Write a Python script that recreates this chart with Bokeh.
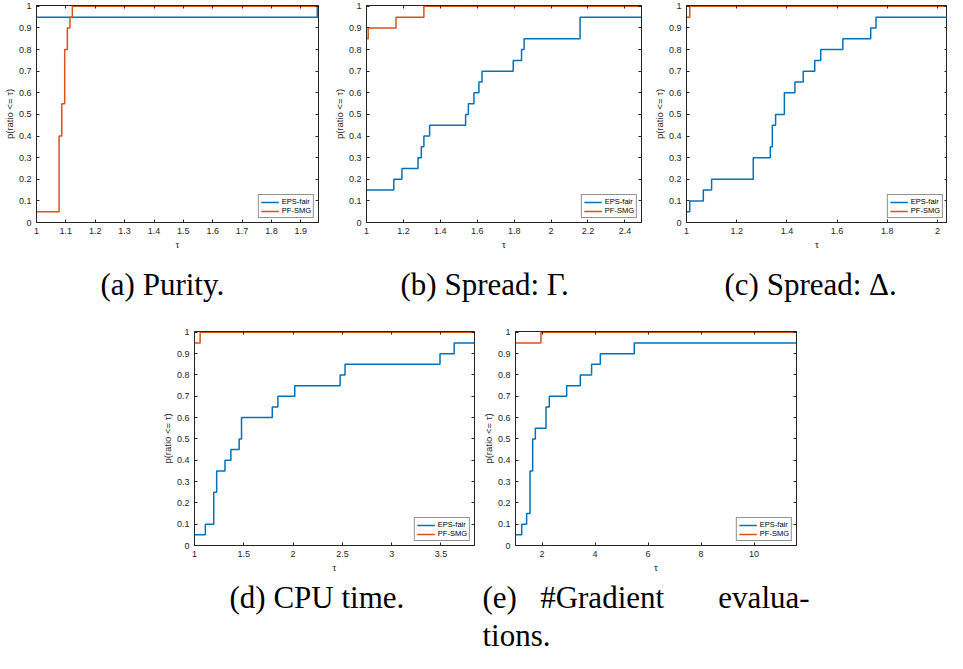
from bokeh.plotting import figure
from bokeh.layouts import column, row
from bokeh.models import Spacer, FixedTicker, LinearAxis, Title, Range1d
from bokeh.embed import file_html
from bokeh.resources import INLINE

# ---------------- data ----------------
series_names = ["EPS-fair", "PF-SMG"]
y_ticks = [0, 0.1, 0.2, 0.3, 0.4, 0.5, 0.6, 0.7, 0.8, 0.9, 1]
y_labels = ["0", "0.1", "0.2", "0.3", "0.4", "0.5", "0.6", "0.7", "0.8", "0.9", "1"]

NB = "\u00a0"
captions = ["(a) Purity.", "(b) Spread: \u0393.", "(c) Spread: \u0394.", "(d) CPU time.",
            "(e)" + NB * 3 + "#Gradient" + NB * 7 + "evalua-", "tions."]

# (a) Purity
purity_xlim = [1, 1.96]
purity_ticks = [1, 1.1, 1.2, 1.3, 1.4, 1.5, 1.6, 1.7, 1.8, 1.9]
purity_tick_labels = ["1", "1.1", "1.2", "1.3", "1.4", "1.5", "1.6", "1.7", "1.8", "1.9"]
purity_eps_tau = [1.0, 1.956]
purity_eps_p = [0.95, 1.00]
purity_pf_tau = [1.0, 1.077, 1.086, 1.096, 1.105, 1.114, 1.122]
purity_pf_p = [0.05, 0.40, 0.55, 0.80, 0.90, 0.95, 1.00]

# (b) Spread Gamma
gamma_xlim = [1, 2.49]
gamma_ticks = [1, 1.2, 1.4, 1.6, 1.8, 2, 2.2, 2.4]
gamma_tick_labels = ["1", "1.2", "1.4", "1.6", "1.8", "2", "2.2", "2.4"]
gamma_eps_tau = [1.0, 1.148, 1.192, 1.279, 1.297, 1.311, 1.342, 1.537, 1.552, 1.582, 1.609, 1.626, 1.795, 1.840, 1.854, 2.157]
gamma_eps_p = [0.15, 0.20, 0.25, 0.30, 0.35, 0.40, 0.45, 0.50, 0.55, 0.60, 0.65, 0.70, 0.75, 0.80, 0.85, 0.95]
gamma_pf_tau = [1.0, 1.009, 1.160, 1.311]
gamma_pf_p = [0.85, 0.90, 0.95, 1.00]

# (c) Spread Delta
delta_xlim = [1, 2.04]
delta_ticks = [1, 1.2, 1.4, 1.6, 1.8, 2]
delta_tick_labels = ["1", "1.2", "1.4", "1.6", "1.8", "2"]
delta_eps_tau = [1.0, 1.013, 1.067, 1.100, 1.266, 1.334, 1.342, 1.355, 1.390, 1.432, 1.465, 1.511, 1.535, 1.623, 1.734, 1.755]
delta_eps_p = [0.05, 0.10, 0.15, 0.20, 0.30, 0.35, 0.45, 0.50, 0.60, 0.65, 0.70, 0.75, 0.80, 0.85, 0.90, 0.95]
delta_pf_tau = [1.0, 1.013]
delta_pf_p = [0.95, 1.00]

# (d) CPU time
cpu_xlim = [1, 3.84]
cpu_ticks = [1, 1.5, 2, 2.5, 3, 3.5]
cpu_tick_labels = ["1", "1.5", "2", "2.5", "3", "3.5"]
cpu_eps_tau = [1.0, 1.110, 1.195, 1.225, 1.309, 1.369, 1.453, 1.477, 1.789, 1.846, 2.017, 2.477, 2.527, 3.490, 3.634]
cpu_eps_p = [0.05, 0.10, 0.25, 0.35, 0.40, 0.45, 0.50, 0.60, 0.65, 0.70, 0.75, 0.80, 0.85, 0.90, 0.95]
cpu_pf_tau = [1.0, 1.057]
cpu_pf_p = [0.95, 1.00]

# (e) #Gradient evaluations
grad_xlim = [1, 11.6]
grad_ticks = [2, 4, 6, 8, 10]
grad_tick_labels = ["2", "4", "6", "8", "10"]
grad_eps_tau = [1.0, 1.234, 1.420, 1.548, 1.648, 1.749, 2.150, 2.276, 2.930, 3.445, 3.870, 4.200, 5.480]
grad_eps_p = [0.05, 0.10, 0.15, 0.35, 0.50, 0.55, 0.65, 0.70, 0.75, 0.80, 0.85, 0.90, 0.95]
grad_pf_tau = [1.0, 1.960]
grad_pf_p = [0.95, 1.00]

# ---------------- styling ----------------
BLUE = "#0072BD"
ORANGE = "#D95319"
AXC = "#262626"
SANS = "Liberation Sans"
SERIF = "Liberation Serif"


def style_axis(ax, ticks, labels, show_labels=True, is_x=True):
    ax.ticker = FixedTicker(ticks=ticks)
    ax.major_tick_in = 3
    ax.major_tick_out = 0
    ax.minor_tick_line_color = None
    ax.axis_line_color = AXC
    ax.axis_line_width = 1
    ax.major_tick_line_color = AXC
    if show_labels:
        ax.major_label_overrides = {t: l for t, l in zip(ticks, labels)}
        ax.major_label_text_font = SANS
        ax.major_label_text_color = AXC
        ax.major_label_text_font_size = "9px"
        ax.major_label_standoff = 5
        ax.axis_label_text_font = SANS
        ax.axis_label_text_font_size = "9.5px"
        ax.axis_label_text_font_style = "normal"
        ax.axis_label_text_color = AXC
        ax.axis_label_standoff = 2 if is_x else 1
    else:
        ax.major_label_text_color = None
        ax.major_label_text_font_size = "0px"
        ax.major_label_standoff = 0


def panel(width, height, bl, br, bt, bb, xlim, xticks, xlabels,
          eps_tau, eps_p, pf_tau, pf_p, cap_lines, cap_offset, cap_standoff):
    p = figure(width=width, height=height,
               x_range=Range1d(xlim[0], xlim[1]), y_range=Range1d(0, 1.004),
               output_backend="svg", toolbar_location=None,
               min_border_left=bl, min_border_right=br,
               min_border_top=bt, min_border_bottom=bb,
               background_fill_color="white", border_fill_color="white")
    p.grid.visible = False
    p.outline_line_color = AXC
    p.outline_line_width = 1
    p.xaxis.axis_label = "\u03c4"
    p.yaxis.axis_label = "p(ratio <= \u03c4)"
    style_axis(p.xaxis[0], xticks, xlabels, True, True)
    style_axis(p.yaxis[0], y_ticks, y_labels, True, False)
    top = LinearAxis()
    style_axis(top, xticks, xlabels, False)
    p.add_layout(top, "above")
    right = LinearAxis()
    style_axis(right, y_ticks, y_labels, False)
    p.add_layout(right, "right")

    p.step(list(eps_tau) + [xlim[1]], list(eps_p) + [eps_p[-1]], mode="after",
           line_color=BLUE, line_width=1.5, legend_label=series_names[0])
    p.step(list(pf_tau) + [xlim[1]], list(pf_p) + [pf_p[-1]], mode="after",
           line_color=ORANGE, line_width=1.5, legend_label=series_names[1])

    lg = p.legend[0]
    lg.location = "bottom_right"
    lg.margin = 4
    lg.padding = 2
    lg.spacing = 0
    lg.label_text_font = SANS
    lg.label_text_font_size = "7.5px"
    lg.label_text_color = "black"
    lg.label_height = 8
    lg.glyph_height = 8
    lg.glyph_width = 18
    lg.label_standoff = 3
    lg.border_line_color = AXC
    lg.border_line_width = 1
    lg.background_fill_color = "white"
    lg.background_fill_alpha = 1

    for i, line in enumerate(cap_lines):
        t = Title(text=line, align="left", offset=cap_offset,
                  standoff=cap_standoff if i == 0 else -4,
                  text_font=SERIF, text_font_size="31px",
                  text_font_style="normal", text_color="black")
        p.add_layout(t, "below")
    return p


pa = panel(330, 322, 36, 12, 5, 100, purity_xlim, purity_ticks, purity_tick_labels,
           purity_eps_tau, purity_eps_p, purity_pf_tau, purity_pf_p,
           [captions[0]], 64, 25)
pb = panel(320, 322, 30, 9, 5, 100, gamma_xlim, gamma_ticks, gamma_tick_labels,
           gamma_eps_tau, gamma_eps_p, gamma_pf_tau, gamma_pf_p,
           [captions[1]], 34, 25)
pc = panel(297, 322, 32, 0, 5, 100, delta_xlim, delta_ticks, delta_tick_labels,
           delta_eps_tau, delta_eps_p, delta_pf_tau, delta_pf_p,
           [captions[2]], 38, 25)
pd = panel(318, 331, 34, 2, 9, 108, cpu_xlim, cpu_ticks, cpu_tick_labels,
           cpu_eps_tau, cpu_eps_p, cpu_pf_tau, cpu_pf_p,
           [captions[3]], 35, 5)
pe = panel(350, 331, 39, 30, 9, 108, grad_xlim, grad_ticks, grad_tick_labels,
           grad_eps_tau, grad_eps_p, grad_pf_tau, grad_pf_p,
           [captions[4], captions[5]], -33, 5)

layout = column(row(pa, pb, pc), row(Spacer(width=158, height=331), pd, pe))

open("out.html", "w").write(file_html(layout, INLINE))
